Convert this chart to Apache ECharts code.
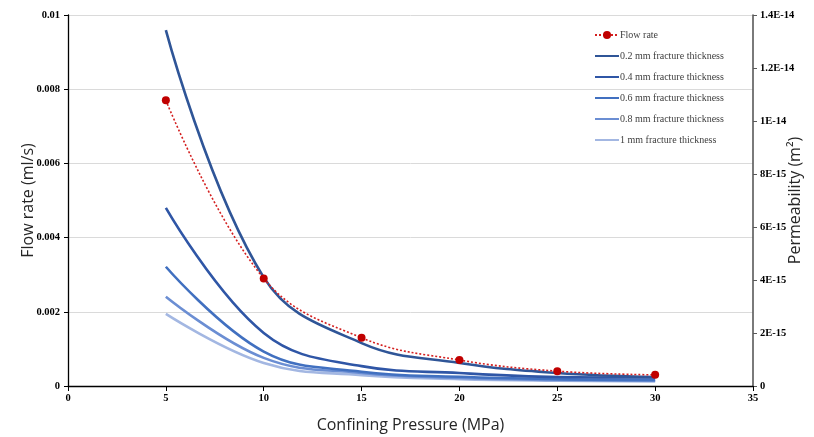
<!DOCTYPE html>
<html>
<head>
<meta charset="utf-8">
<script src="https://cdn.jsdelivr.net/npm/echarts@6/dist/echarts.min.js"></script>
<style>html,body{margin:0;padding:0;background:#fff}#c{width:814px;height:437px}</style>
</head>
<body>
<div id="c"></div>
<script>
const pressures = [5, 10, 15, 20, 25, 30];
const flowRate = [0.0077, 0.0029, 0.0013, 0.0007, 0.0004, 0.0003];
const perm02 = [1.343e-14, 4.1e-15, 1.62e-15, 8.7e-16, 4.9e-16, 3.4e-16];
const perm04 = [6.72e-15, 2.0e-15, 7.5e-16, 4.9e-16, 3.4e-16, 3.2e-16];
const perm06 = [4.5e-15, 1.3e-15, 5.4e-16, 3.5e-16, 2.6e-16, 2.3e-16];
const perm08 = [3.37e-15, 1.06e-15, 4.9e-16, 3.0e-16, 2.3e-16, 2.0e-16];
const perm10 = [2.72e-15, 8.7e-16, 4.1e-16, 2.6e-16, 2.0e-16, 1.7e-16];
const seriesNames = ['Flow rate', '0.2 mm fracture thickness', '0.4 mm fracture thickness',
  '0.6 mm fracture thickness', '0.8 mm fracture thickness', '1 mm fracture thickness'];

const pairs = arr => pressures.map((p, i) => [p, arr[i]]);
const serif = '"Liberation Serif","Times New Roman",serif';
const sans = '"Open Sans","Noto Sans",sans-serif';

function sci(v) {
  if (v === 0) return '0';
  const e = Math.floor(Math.log10(Math.abs(v)) + 1e-9);
  const m = Math.round(v / Math.pow(10, e) * 100) / 100;
  return m + 'E' + e;
}

const blueColors = ['#2F5597', '#2F56A6', '#4170C0', '#6B8ED3', '#A3B7E2'];
const permData = [perm02, perm04, perm06, perm08, perm10];

const series = [{
  name: seriesNames[0], type: 'line', yAxisIndex: 0, data: pairs(flowRate),
  smooth: 0.4, symbol: 'circle', symbolSize: 8,
  itemStyle: { color: '#C00000' },
  lineStyle: { color: '#D42020', width: 1.6, type: [2, 2] },
  z: 5
}];
permData.forEach((d, i) => {
  series.push({
    name: seriesNames[i + 1], type: 'line', yAxisIndex: 1, data: pairs(d),
    smooth: 0.4, symbol: 'none', showSymbol: false,
    itemStyle: { color: blueColors[i] },
    lineStyle: { color: blueColors[i], width: 2.6 },
    z: 4 - i
  });
});

const legendData = seriesNames.map((n, i) => i === 0 ? { name: n, itemStyle: {} } : { name: n, itemStyle: { opacity: 0 } });

const chart = echarts.init(document.getElementById('c'));
chart.setOption({
  animation: false,
  backgroundColor: '#fff',
  grid: { left: 68, right: 61, top: 15, bottom: 51, outerBoundsMode: 'none', containLabel: false },
  legend: {
    orient: 'vertical', left: 589, top: 25, itemGap: 11,
    itemWidth: 24, itemHeight: 10,
    data: legendData,
    textStyle: { fontFamily: serif, fontSize: 10, color: '#404040', padding: [0, 0, 0, -4] }
  },
  xAxis: {
    type: 'value', min: 0, max: 35, interval: 5,
    name: 'Confining Pressure (MPa)', nameLocation: 'middle', nameGap: 31, nameMoveOverlap: false,
    nameTextStyle: { fontFamily: sans, fontSize: 16, color: '#262626' },
    axisLine: { lineStyle: { color: '#000', width: 1.3 } },
    axisTick: { show: true, length: 5, lineStyle: { color: '#000' } },
    axisLabel: { fontFamily: serif, fontWeight: 'bold', fontSize: 10.5, color: '#000', margin: 7 },
    splitLine: { show: false }
  },
  yAxis: [{
    type: 'value', min: 0, max: 0.01, interval: 0.002, position: 'left',
    name: 'Flow rate (ml/s)', nameLocation: 'middle', nameGap: 32, nameMoveOverlap: false,
    nameTextStyle: { fontFamily: sans, fontSize: 16, color: '#262626' },
    axisLine: { show: true, lineStyle: { color: '#000', width: 1.3 } },
    axisTick: { show: true, length: 4, lineStyle: { color: '#000' } },
    axisLabel: { fontFamily: serif, fontWeight: 'bold', fontSize: 10.5, color: '#000', margin: 8 },
    splitLine: { show: true, lineStyle: { color: '#DADADA', width: 1 } }
  }, {
    type: 'value', min: 0, max: 1.4e-14, interval: 2e-15, position: 'right',
    name: 'Permeability (m²)', nameLocation: 'middle', nameGap: 34, nameRotate: 90, nameMoveOverlap: false,
    nameTextStyle: { fontFamily: sans, fontSize: 16, color: '#262626' },
    axisLine: { show: true, lineStyle: { color: '#595959', width: 1.6 } },
    axisTick: { show: true, length: 4, lineStyle: { color: '#595959' } },
    axisLabel: { fontFamily: serif, fontWeight: 'bold', fontSize: 10.5, color: '#000', margin: 7, formatter: sci },
    splitLine: { show: false }
  }],
  series: series
});
</script>
</body>
</html>
